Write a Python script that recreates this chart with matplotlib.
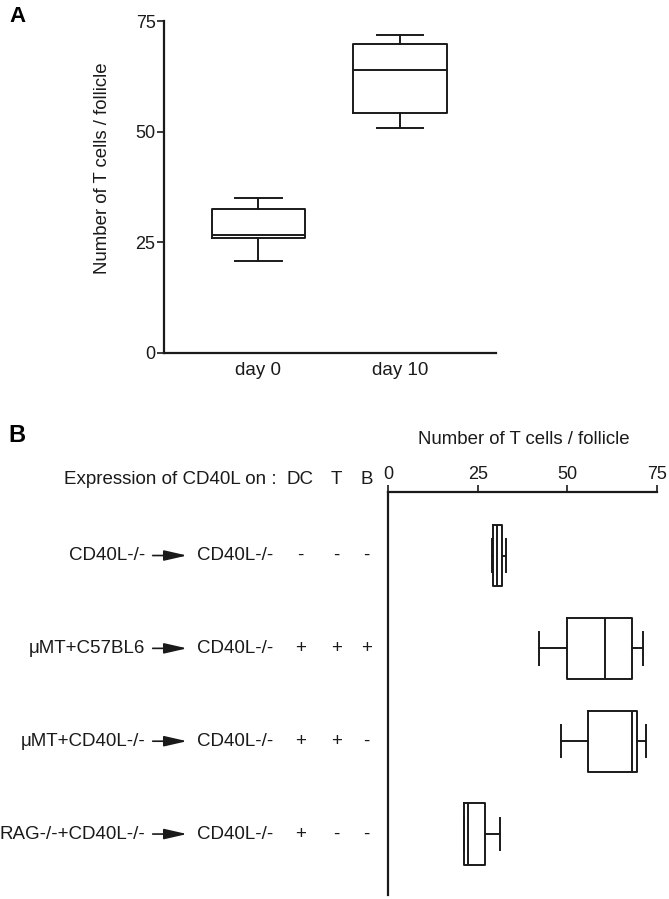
import matplotlib
matplotlib.use("Agg")
import matplotlib.pyplot as plt
from matplotlib.patches import FancyArrowPatch
from matplotlib.transforms import blended_transform_factory

plt.rcParams['font.family'] = ['Liberation Sans', 'DejaVu Sans']

# panel A data: box plot summaries
days = ['day 0', 'day 10']
a_low = [20.8, 50.9]
a_q1 = [26.0, 54.1]
a_med = [26.7, 64.0]
a_q3 = [32.4, 69.7]
a_high = [34.9, 71.8]
a_ticks = [0, 25, 50, 75]

# panel B data
donors = ['CD40L-/-', 'μMT+C57BL6', 'μMT+CD40L-/-', 'RAG-/-+CD40L-/-']
recipient = 'CD40L-/-'
on_dc = ['-', '+', '+', '+']
on_t = ['-', '+', '+', '-']
on_b = ['-', '+', '-', '-']
b_low = [28.9, 42.0, 48.2, 21.1]
b_q1 = [29.3, 49.8, 55.9, 21.1]
b_med = [30.5, 60.5, 68.1, 22.4]
b_q3 = [31.7, 68.1, 69.5, 27.0]
b_high = [32.9, 71.2, 72.0, 31.2]
b_ticks = [0, 25, 50, 75]

ink = '#1a1a1a'
W, H = 669, 899
fs = 13.5

fig = plt.figure(figsize=(6.69, 8.99), dpi=100)

line = dict(color=ink, linewidth=1.4)

# ---- panel A
axA = fig.add_axes([0.2444, 0.6077, 0.497, 0.3689])
statsA = []
for i in range(len(days)):
    statsA.append(dict(label=days[i], whislo=a_low[i], q1=a_q1[i], med=a_med[i],
                       q3=a_q3[i], whishi=a_high[i]))
axA.bxp(statsA, positions=[1, 2], widths=0.66, capwidths=0.33, showfliers=False,
        boxprops=line, whiskerprops=line, capprops=line, medianprops=line)
axA.set_xlim(0.329, 2.678)
axA.set_ylim(0, 75)
axA.set_yticks(a_ticks)
for s in ['top', 'right']:
    axA.spines[s].set_visible(False)
for s in ['left', 'bottom']:
    axA.spines[s].set_linewidth(1.6)
    axA.spines[s].set_color(ink)
axA.tick_params(axis='x', length=0, pad=7, labelsize=13.5, colors=ink)
axA.tick_params(axis='y', length=4.7, width=1.2, pad=1, labelsize=13, colors=ink)
axA.set_ylabel('Number of T cells / follicle', fontsize=13.4, color=ink)
axA.yaxis.set_label_coords(-0.159, 0.557)

fig.text(17 / W, 1 - 16.5 / H, 'A', fontsize=16, fontweight='bold', ha='center', va='center')

# ---- panel B
axB = fig.add_axes([0.5804, 0.0044, 0.4012, 0.448])
statsB = []
for i in range(len(donors)):
    statsB.append(dict(whislo=b_low[i], q1=b_q1[i], med=b_med[i],
                       q3=b_q3[i], whishi=b_high[i]))
axB.bxp(statsB, positions=range(len(donors)), widths=0.66, capwidths=0.35,
        orientation='horizontal', manage_ticks=False, showfliers=False,
        boxprops=line, whiskerprops=line, capprops=line, medianprops=line)
axB.set_xlim(0, 75)
axB.set_ylim(3.657, -0.681)
axB.set_xticks(b_ticks)
axB.set_yticks([])
axB.xaxis.tick_top()
for s in ['bottom', 'right']:
    axB.spines[s].set_visible(False)
for s in ['top', 'left']:
    axB.spines[s].set_linewidth(1.6)
    axB.spines[s].set_color(ink)
axB.tick_params(axis='x', length=5, width=1.2, pad=2, labelsize=13, colors=ink)

fig.text(524 / W, 1 - 440 / H, 'Number of T cells / follicle', fontsize=13.4,
         ha='center', va='center', color=ink)
fig.text(16.7 / W, 1 - 436 / H, 'B', fontsize=17, fontweight='bold', ha='center', va='center')

head_y = 1 - 480 / H
fig.text(277 / W, head_y, 'Expression of CD40L on :', fontsize=fs, ha='right', va='center', color=ink)
cols_x = [300.5 / W, 336.5 / W, 366.5 / W]
for x, lab in zip(cols_x, ['DC', 'T', 'B']):
    fig.text(x, head_y, lab, fontsize=fs, ha='center', va='center', color=ink)

trans = blended_transform_factory(fig.transFigure, axB.transData)
for i in range(len(donors)):
    fig.text(145 / W, i, donors[i], transform=trans, fontsize=fs, ha='right', va='center', color=ink)
    fig.text(197 / W, i, recipient, transform=trans, fontsize=fs, ha='left', va='center', color=ink)
    for x, sign in zip(cols_x, [on_dc[i], on_t[i], on_b[i]]):
        fig.text(x, i, sign, transform=trans, fontsize=fs, ha='center', va='center', color=ink)
    arr = FancyArrowPatch((152.7 / W, i), (187 / W, i), transform=trans,
                          arrowstyle='-|>,head_length=14,head_width=3.2', mutation_scale=1,
                          linewidth=1.2, color=ink, shrinkA=0, shrinkB=0)
    fig.add_artist(arr)

fig.savefig('out.png', dpi=100, facecolor='white')
